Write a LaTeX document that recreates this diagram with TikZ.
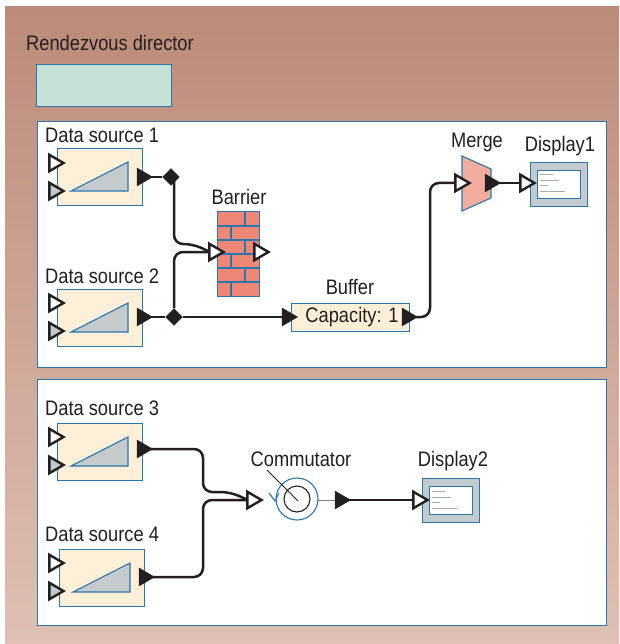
\documentclass[tikz,border=0pt]{standalone}
\usepackage{fontspec}
\setmainfont[FakeStretch=0.87]{Liberation Sans}
\definecolor{bgtop}{HTML}{BC8B79}
\definecolor{bgbot}{HTML}{DFC0B4}
\definecolor{edge}{HTML}{2A76AE}
\definecolor{cream}{HTML}{FEF0D8}
\definecolor{mint}{HTML}{C5E0D5}
\definecolor{brick}{HTML}{EE8776}
\definecolor{merge}{HTML}{F2AD9E}
\definecolor{steel}{HTML}{C5CACD}
\definecolor{ink}{HTML}{231F20}
\usetikzlibrary{shapes.geometric}
\tikzset{
  x=1pt,y=-1pt,
  lbl/.style={font=\fontsize{21}{23}\selectfont,text=ink,inner sep=0pt},
  panel/.style={draw=edge,line width=1.4pt,fill=white},
  boxed/.style={draw=edge,line width=1.2pt,fill=cream},
  ramp/.style={draw=edge,line width=1.1pt,fill=steel},
  wire/.style={draw=ink,line width=2.5pt,rounded corners=9pt},
  straight/.style={draw=ink,line width=2.5pt},
  porto/.style={draw=ink,line width=2.4pt,fill=white,line join=miter},
  portg/.style={draw=ink,line width=2.4pt,fill=steel,line join=miter},
  portb/.style={draw=ink,line width=0.4pt,fill=ink},
  junction/.style={draw=ink,fill=ink,diamond,aspect=1,inner sep=0pt,minimum size=17pt},
  textline/.style={draw=steel!85!black,line width=1pt},
}
\newcommand{\tport}[4]{%
  \draw[#2] (#3+1.4,#4-8.2) -- (#3+15.5,#4) -- (#3+1.4,#4+8.2) -- cycle;}
\newcommand{\bport}[3]{%
  \draw[portb] (#2,#3-9) -- (#2+15.5,#3) -- (#2,#3+9) -- cycle;}
\newcommand{\source}[5]{% name, left, top, label, label y
  \node[boxed,anchor=north west,minimum width=85pt,minimum height=57pt,inner sep=0pt] (#1) at (#2,#3) {};
  \draw[ramp] (#2+14,#3+43) -- (#2+71,#3+14) -- (#2+71,#3+43) -- cycle;
  \node[lbl,anchor=west] (#1-label) at (45,#5) {#4};
}
\newcommand{\display}[3]{% name, left, top
  \node[draw=edge,line width=1.2pt,fill=steel,anchor=north west,minimum width=57pt,minimum height=44pt,inner sep=0pt] (#1) at (#2,#3) {};
  \node[draw=edge,line width=1.2pt,fill=white,anchor=north west,minimum width=43pt,minimum height=28pt,inner sep=0pt] (#1-screen) at (#2+7,#3+8) {};
  \draw[textline] (#2+10,#3+13) -- +(13,0);
  \draw[textline] (#2+10,#3+19) -- +(19,0);
  \draw[textline] (#2+10,#3+24) -- +(8,0);
  \draw[textline] (#2+10,#3+30) -- +(25,0);
}
\begin{document}
\begin{tikzpicture}
\useasboundingbox (0,0) rectangle (619,644);
\shade[top color=bgtop,bottom color=bgbot] (5,7) rectangle (619,644);
\node[lbl,anchor=west] (title) at (26,43) {Rendezvous director};
\node[draw=edge,line width=1.4pt,fill=mint,anchor=north west,minimum width=135pt,minimum height=42pt,inner sep=0pt] (director) at (36,64) {};
\node[panel,anchor=north west,minimum width=569pt,minimum height=246pt,inner sep=0pt] (top) at (37,121) {};
\node[panel,anchor=north west,minimum width=569pt,minimum height=246pt,inner sep=0pt] (bottom) at (37,379) {};

\source{ds1}{57}{148}{Data source 1}{135}
\source{ds2}{57}{289}{Data source 2}{276}
\source{ds3}{57}{423}{Data source 3}{408}
\source{ds4}{59}{549}{Data source 4}{534}

% barrier
\node[draw=edge,line width=1.1pt,fill=brick,anchor=north west,minimum width=42pt,minimum height=85pt,inner sep=0pt] (barrier) at (217,211) {};
\draw[edge,line width=1.1pt]
  (217,226) -- (259,226) (217,240) -- (259,240) (217,254) -- (259,254)
  (217,268) -- (259,268) (217,282) -- (259,282)
  (245,211) -- (245,226) (231,226) -- (231,240) (245,240) -- (245,254)
  (231,254) -- (231,268) (245,268) -- (245,282) (231,282) -- (231,296);
\node[lbl] (barrier-label) at (239,197) {Barrier};

% buffer
\node[boxed,anchor=north west,minimum width=118pt,minimum height=28pt,inner sep=0pt] (buffer) at (291,303) {};
\node[lbl] (buffer-text) at (352,317) {Capacity: 1};
\node[lbl] (buffer-label) at (350,287) {Buffer};

% merge
\draw[draw=edge,line width=1.1pt,fill=merge] (462,156) -- (491,169) -- (491,198) -- (462,211) -- cycle;
\node[lbl] (merge-label) at (477,142) {Merge};

% displays
\display{disp1}{530}{162}
\node[lbl] (disp1-label) at (560,146) {Display1};
\display{disp2}{422}{478}
\node[lbl] (disp2-label) at (453,461) {Display2};

% commutator
\node[circle,draw=edge,line width=1.1pt,minimum size=42pt,inner sep=0pt] (comm) at (297,499) {};
\node[circle,draw=ink,line width=1.1pt,minimum size=26pt,inner sep=0pt] (comm-in) at (297,499) {};
\node[lbl] (comm-label) at (301,459) {Commutator};
\coordinate (comm-tip) at (298,501);
\coordinate (comm-tail) at (267,470);
\draw[ink,line width=0.9pt] (comm-tail) -- (comm-tip);
\draw[edge,line width=1.1pt] (269,493) -- (275,501) -- (279,493);

% connection points
\coordinate (ds1-o) at (150,177);
\coordinate (ds2-o) at (150,317);
\coordinate (ds3-o) at (150,449);
\coordinate (ds4-o) at (153,577);
\coordinate (bar-i) at (210,252);
\coordinate (buf-i) at (284,317);
\coordinate (buf-o) at (416,317);
\coordinate (mer-i) at (456,183);
\coordinate (mer-o) at (499,183);
\coordinate (dis1-i) at (521,183);
\coordinate (com-i) at (248,500);
\coordinate (com-o) at (318,500);
\coordinate (com-b) at (348,500);
\coordinate (dis2-i) at (414,500);

% wires
\node[junction] (j1) at (171,177) {};
\node[junction] (j2) at (174,317) {};
\draw[straight] (ds1-o) -- (j1);
\draw[wire] (174,177) -- (174,244) -- (193,244) -- (bar-i);
\draw[straight] (ds2-o) -- (j2) -- (buf-i);
\draw[wire] (j2) -- (174,252) -- (bar-i);
\draw[wire] (buf-o) -- (430,317) -- (430,183) -- (mer-i);
\draw[straight] (mer-o) -- (dis1-i);
\draw[wire] (ds3-o) -- (203,449) -- (203,492) -- (230,492) -- (com-i);
\draw[wire] (ds4-o) -- (203,577) -- (203,500) -- (com-i);
\draw[draw=gray,line width=1pt] (com-o) -- (com-b);
\draw[straight] (com-b) -- (dis2-i);

% ports
\tport{a1}{porto}{48}{163}\tport{a2}{portg}{48}{191}\bport{a3}{137}{177}
\tport{b1}{porto}{48}{303}\tport{b2}{portg}{48}{331}\bport{b3}{137}{317}
\tport{c1}{porto}{48}{437}\tport{c2}{portg}{48}{465}\bport{c3}{137}{449}
\tport{d1}{porto}{48}{563}\tport{d2}{portg}{48}{591}\bport{d3}{139}{577}
\tport{e1}{porto}{208}{252}\tport{e2}{porto}{253}{252}
\bport{f1}{282}{317}\bport{f2}{402}{317}
\tport{g1}{porto}{454}{183}\bport{g2}{485}{183}
\tport{h1}{porto}{519}{183}
\tport{i1}{porto}{246}{500}\bport{i2}{335}{500}\tport{i3}{porto}{412}{500}
\end{tikzpicture}
\end{document}
